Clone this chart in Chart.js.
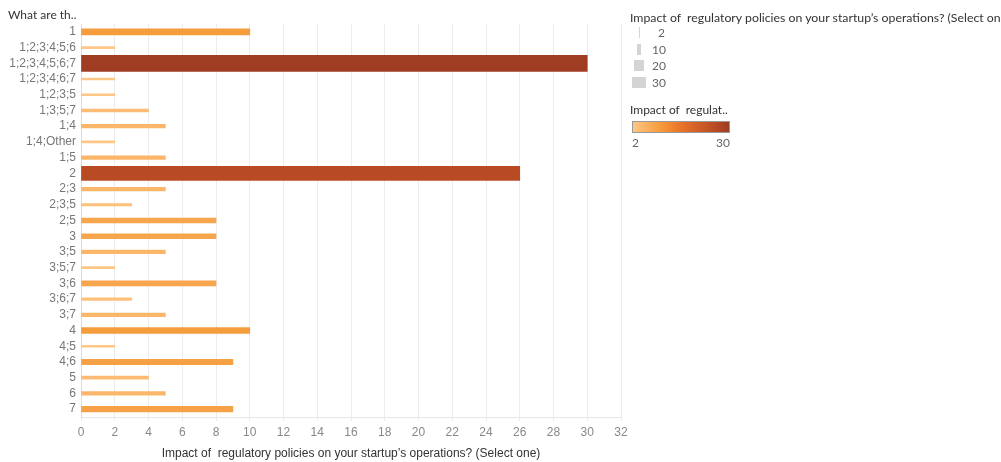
<!DOCTYPE html>
<html>
<head>
<meta charset="utf-8">
<script src="https://cdn.jsdelivr.net/npm/chart.js@4.4.0/dist/chart.umd.min.js"></script>
<style>
    body { margin: 0; background: #fff; font-family: Lato, "Noto Sans", sans-serif; }
    #wrap { position: absolute; left: 0; top: 0; width: 640px; height: 462px; }
    .txt { position: absolute; font-size: 12px; color: #333; white-space: nowrap; }
    .lab { position: absolute; font-size: 12px; color: #666; white-space: nowrap; }
    .sw { position: absolute; background: #d4d4d4; }
</style>
</head>
<body>
<div id="wrap"><canvas id="chart" width="640" height="462"></canvas></div>
<div class="txt" style="left:8px; top:7px;">What are th..</div>

<div class="txt" style="left:630px; top:10px; font-size:12.3px;">Impact of&nbsp; regulatory policies on your startup’s operations? (Select one)</div>
<div id="sizeLegend"></div>
<div class="txt" style="left:630px; top:102px;">Impact of&nbsp; regulat..</div>
<div id="ramp" style="position:absolute; left:632px; top:121px; width:96px; height:10px; border:1px solid #999;"></div>
<div class="lab" style="left:632px; top:135px;">2</div>
<div class="lab" style="left:716px; top:135px;">30</div>

<script>
    // categories and values
    const categories = ['1', '1;2;3;4;5;6', '1;2;3;4;5;6;7', '1;2;3;4;6;7', '1;2;3;5', '1;3;5;7', '1;4', '1;4;Other',
        '1;5', '2', '2;3', '2;3;5', '2;5', '3', '3;5', '3;5;7', '3;6', '3;6;7', '3;7', '4', '4;5', '4;6', '5', '6', '7'];
    const impactValues = [10, 2, 30, 2, 2, 4, 5, 2, 5, 26, 5, 3, 8, 8, 5, 2, 8, 3, 5, 10, 2, 9, 4, 5, 9];
    const sizeLegendValues = [2, 10, 20, 30];
    const colorRange = [2, 30];

    // tableau-ish orange ramp
    const rampStops = [
        [0, [255, 198, 133]],
        [0.29, [245, 155, 59]],
        [0.5, [233, 115, 42]],
        [0.86, [184, 75, 36]],
        [1, [158, 61, 34]]
    ];

    function rampColor(v) {
        let t = (v - colorRange[0]) / (colorRange[1] - colorRange[0]);
        t = Math.max(0, Math.min(1, t));
        for (let i = 1; i < rampStops.length; i++) {
            if (t <= rampStops[i][0]) {
                const a = rampStops[i - 1], b = rampStops[i];
                const f = (t - a[0]) / (b[0] - a[0]);
                const c = a[1].map((x, k) => Math.round(x + (b[1][k] - x) * f));
                return 'rgb(' + c.join(',') + ')';
            }
        }
        return 'rgb(' + rampStops[rampStops.length - 1][1].join(',') + ')';
    }

    function thickness(v) {
        return v * 0.5 + 1;
    }

    // gradient legend
    document.getElementById('ramp').style.background = 'linear-gradient(to right, ' +
        rampStops.map(s => rampColor(colorRange[0] + s[0] * (colorRange[1] - colorRange[0])) + ' ' + (s[0] * 100) + '%').join(', ') + ')';

    // size legend
    const sizeLegend = document.getElementById('sizeLegend');
    sizeLegendValues.forEach(function (v, i) {
        const top = 27 + i * 16.7;
        const w = Math.max(1, v * 0.47);
        sizeLegend.innerHTML += `<div class="sw" style="left:${639 - w / 2}px; top:${top}px; width:${w}px; height:11px;"></div>` +
            `<div class="lab" style="left:${v < 10 ? 658 : 652}px; top:${top - 2}px;">${v}</div>`;
    });

    // one dataset per bar so each bar can have its own thickness
    const datasets = categories.map(function (cat, i) {
        const data = categories.map((c, j) => j === i ? impactValues[i] : null);
        return {
            label: cat,
            data: data,
            backgroundColor: rampColor(impactValues[i]),
            barThickness: thickness(impactValues[i]),
            borderWidth: 0
        };
    });

    new Chart(document.getElementById('chart').getContext('2d'), {
        type: 'bar',
        data: {
            labels: categories,
            datasets: datasets
        },
        options: {
            indexAxis: 'y',
            responsive: false,
            animation: false,
            grouped: false,
            layout: { padding: { top: 24, right: 19, left: 0, bottom: 0 } },
            plugins: {
                legend: { display: false },
                tooltip: { enabled: false }
            },
            scales: {
                x: {
                    min: 0,
                    max: 32,
                    ticks: { stepSize: 2, color: '#888', font: { size: 12 }, padding: 4 },
                    grid: { color: '#ececec', tickLength: 4 },
                    border: { color: '#e6e6e6' },
                    title: {
                        display: true,
                        text: 'Impact of  regulatory policies on your startup’s operations? (Select one)',
                        color: '#333',
                        font: { size: 12 },
                        padding: { top: 0, bottom: 1 }
                    },
                    afterFit: function (scale) { scale.height = 45; }
                },
                y: {
                    ticks: { color: '#777', font: { size: 12 }, padding: 5, autoSkip: false },
                    grid: { display: false, drawTicks: false },
                    border: { display: true, color: '#dcdcdc' },
                    afterFit: function (scale) { scale.width = 81; }
                }
            }
        }
    });
</script>
</body>
</html>
